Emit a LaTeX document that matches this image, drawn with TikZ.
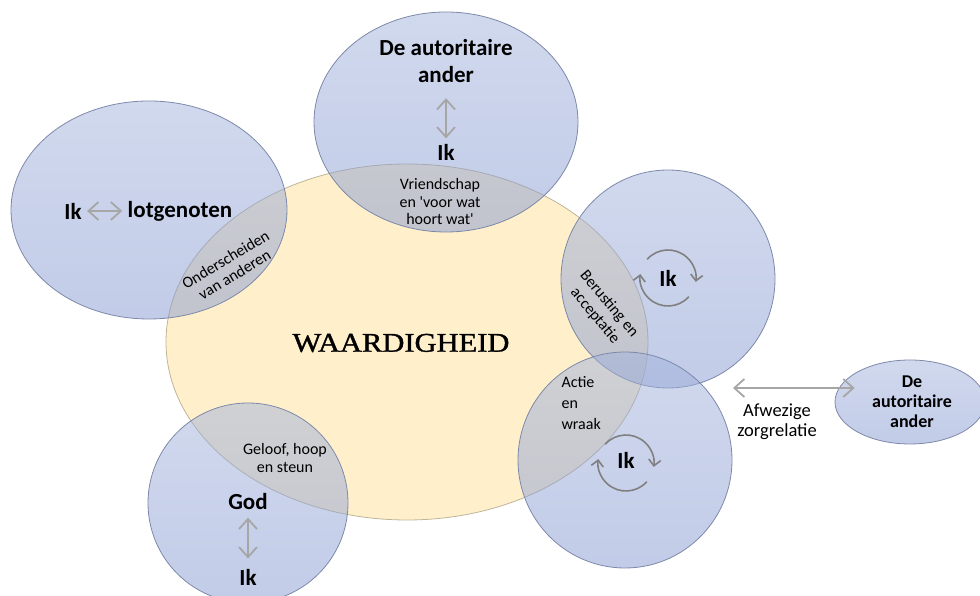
\documentclass[tikz,border=0pt]{standalone}
\usepackage{fontspec}
\setmainfont{Carlito}
\newfontfamily\titlefont[FakeBold=1.2]{Liberation Serif}
\usetikzlibrary{calc,arrows.meta}

\definecolor{geel}{RGB}{255,240,203}
\definecolor{geelrand}{RGB}{190,181,152}
\definecolor{blauwboven}{RGB}{163,179,220}
\definecolor{blauwonder}{RGB}{133,153,209}
\definecolor{blauwrand}{RGB}{125,137,170}
\definecolor{pijlgrijs}{RGB}{166,166,166}
\definecolor{draaigrijs}{RGB}{128,128,128}

\begin{document}
\begin{tikzpicture}[x=1pt, y=1pt,
    blauw/.style={shade, top color=blauwboven, bottom color=blauwonder,
        fill opacity=0.5, draw=blauwrand, line width=0.8pt},
    groot/.style={font=\fontsize{23}{27}\selectfont\bfseries, align=center},
    klein/.style={font=\fontsize{16}{17.5}\selectfont, align=center},
    tweezijdig/.style={{Straight Barb[length=10pt,width=18pt]}-{Straight Barb[length=10pt,width=18pt]},
        draw=pijlgrijs, line width=1.8pt},
    rondpijl/.style={-{Straight Barb[length=6pt,width=12pt]}, draw=draaigrijs, line width=1.6pt}]

    \useasboundingbox (0,0) rectangle (980,596);

    % waardigheid
    \draw[fill=geel, draw=geelrand, line width=0.8pt] (407,254) ellipse [x radius=241, y radius=178];

    % de cirkels
    \path[blauw] (446,474) ellipse [x radius=132, y radius=110];
    \path[blauw] (149,386) ellipse [x radius=138, y radius=109];
    \path[blauw] (248,93) ellipse [x radius=100, y radius=100];
    \path[blauw] (668,317) ellipse [x radius=107, y radius=109];
    \path[blauw] (625,136) ellipse [x radius=107, y radius=108];
    \path[blauw] (910,194) ellipse [x radius=75, y radius=42];

    \node (w) at (401,253) {\titlefont\fontsize{27}{27}\selectfont\scalebox{1.13}[1]{WAARDIGHEID}};

    % boven
    \node[groot] (auth) at (446,535) {De autoritaire\\ander};
    \node[groot] (ik1) at (446,444) {Ik};
    \draw[tweezijdig, shorten <=12pt, shorten >=2pt] (auth) -- (ik1);
    \node[klein] (vr) at (440,394) {Vriendschap\\en \textquotesingle voor wat\\hoort wat\textquotesingle};

    % links
    \node[groot] (ik2) at (73,385) {Ik};
    \node[groot] (lot) at (180,385) {lotgenoten};
    \draw[tweezijdig, shorten <=2pt, shorten >=2pt] (ik2) -- (lot);
    \node[klein, rotate=31] (ond) at (230,329) {Onderscheiden\\van anderen};

    % onder links
    \node[groot] (god) at (248,94) {God};
    \node[groot] (ik3) at (248,19) {Ik};
    \draw[tweezijdig, shorten <=4pt, shorten >=7pt] (god) -- (ik3);
    \node[klein] (gel) at (285,138) {Geloof, hoop\\en steun};

    % rechts boven
    \node[groot] (ik4) at (668,318) {Ik};
    \draw[rondpijl] ($(ik4)+(138:28)$) arc [start angle=138, end angle=-8, radius=28];
    \draw[rondpijl] ($(ik4)+(-42:28)$) arc [start angle=-42, end angle=-188, radius=28];
    \node[font=\fontsize{16}{18.5}\selectfont, align=center, rotate=-50] (ber) at (602,286) {Berusting en\\acceptatie};

    % rechts onder
    \node[groot] (ik5) at (626,136) {Ik};
    \draw[rondpijl] ($(ik5)+(0,-3)+(138:28)$) arc [start angle=138, end angle=-8, radius=28];
    \draw[rondpijl] ($(ik5)+(0,-3)+(-42:28)$) arc [start angle=-42, end angle=-188, radius=28];
    \node[font=\fontsize{16}{21}\selectfont, align=left, anchor=west] (act) at (558,193) {Actie\\en\\wraak};

    % afwezige zorgrelatie
    \node[font=\fontsize{18}{20}\selectfont\bfseries, align=center] (auth2) at (912,194) {De\\autoritaire\\ander};
    \coordinate (zl) at (733,208);
    \draw[tweezijdig, shorten >=14pt] (zl) -- (auth2.west |- zl);
    \node[font=\fontsize{18.5}{20}\selectfont, align=center] (afw) at (777,174) {Afwezige\\zorgrelatie};

\end{tikzpicture}
\end{document}
